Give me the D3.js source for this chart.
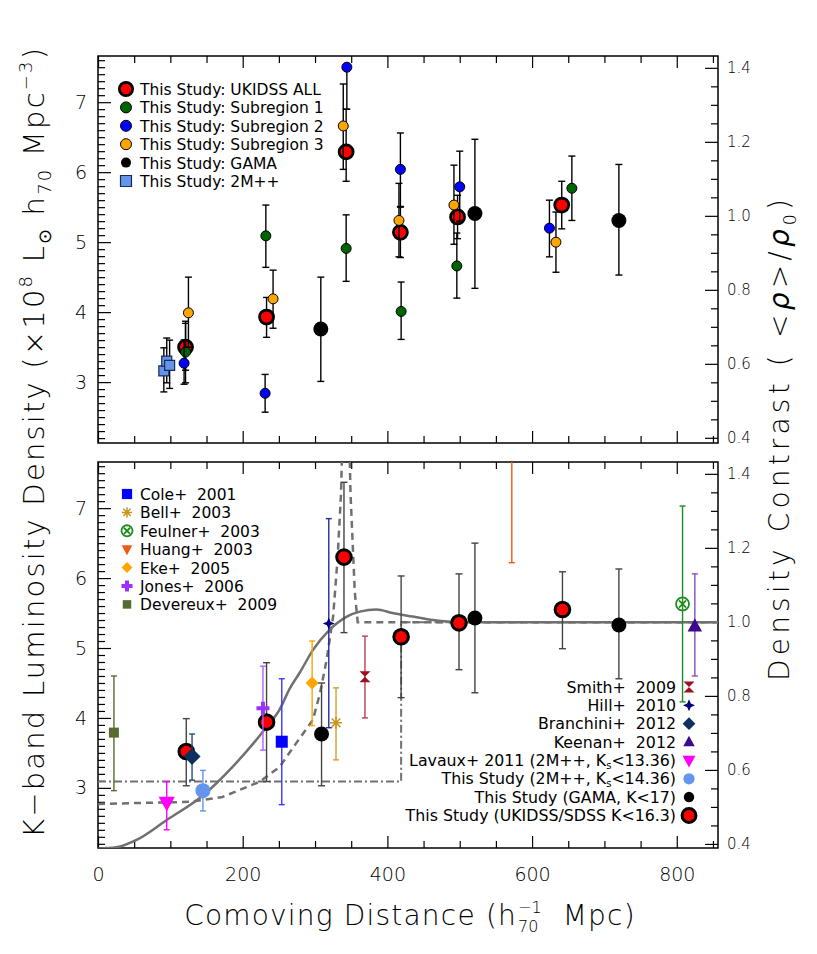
<!DOCTYPE html>
<html>
<head>
<meta charset="utf-8">
<script src="https://cdn.jsdelivr.net/npm/d3@7"></script>
<style>
body { margin: 0; background: #ffffff; }
svg text { font-family: "DejaVu Sans", sans-serif; white-space: pre; }
</style>
</head>
<body>
<script>
var w = 817;
var h = 954;
var x0 = 98, x1 = 718;

// ---- data: [distance, value, lower, upper] ----
// top panel
var ukidssAll = [[121,3.50,3.17,3.84],[233,3.93,3.64,4.21],[343,6.29,5.87,6.90],[418,5.14,4.78,5.50],[497,5.36,5.05,5.67],[641,5.53,5.19,5.87]];
var subregion1 = [[121,3.43,2.99,3.87],[232,5.09,4.64,5.53],[343,4.91,4.44,5.39],[419,4.01,3.61,4.43],[496,4.66,4.20,5.13],[655,5.77,5.31,6.23]];
var subregion2 = [[119,3.27,2.97,3.60],[231,2.84,2.57,3.11],[344,7.50,6.90,7.50],[418,6.04,5.51,6.56],[500,5.79,5.30,6.30],[624,5.20,4.79,5.60]];
var subregion3 = [[125,3.99,3.50,4.50],[242,4.19,3.77,4.60],[339,6.66,6.04,7.26],[416,5.31,4.79,5.84],[492,5.53,4.97,6.10],[633,5.00,4.57,5.43]];
var gamaTop = [[308,3.76,3.01,4.50],[521,5.41,4.34,6.47],[720,5.31,4.53,6.11]];
var twoMppTop = [[91,3.16,2.86,3.49],[95,3.30,2.99,3.63],[99,3.24,2.91,3.60]];

// bottom panel
var ukidssBot = [[122,3.52,3.03,3.99],[233,3.94,3.09,4.79],[340,6.30,5.22,7.37],[419,5.16,4.29,6.03],[499,5.36,4.69,6.06],[642,5.55,4.99,6.09]];
var gamaBot = [[309,3.77,3.03,4.50],[521,5.43,4.36,6.50],[720,5.33,4.56,6.13]];
var twoMppBot = [[145,2.96,2.67,3.25]];
var lavaux = [[95,2.79,2.40,3.09]];
var branchini = [[130,3.45,3.11,3.77]];
var keenan = [[825,5.31,4.60,6.06]];
var hill = [[319,5.35,3.86,6.85]];
var smith = [[369,4.59,4.00,5.17]];
var cole = [[254,3.66,2.76,4.56]];
var bell = [[329,3.93,3.40,4.43]];
var feulner = [[808,5.63,4.23,7.03]];
var huang = [[572,8.20,6.22,10.2]];
var eke = [[296,4.50,3.89,5.10]];
var jones = [[228,4.14,3.54,4.74]];
var devereux = [[22,3.79,2.96,4.60]];

// model curves
var modelDist = [0, 25, 54, 95, 145, 186, 233, 251, 265, 279, 297, 320, 344, 362, 385, 407, 435, 463, 500, 857];
var modelVal  = [2.13, 2.15, 2.26, 2.54, 2.89, 3.30, 3.87, 4.12, 4.42, 4.65, 4.97, 5.26, 5.45, 5.52, 5.55, 5.50, 5.45, 5.40, 5.37, 5.37];
var dashDist = [0, 127, 172, 224, 251, 274, 297, 307, 316, 325, 331, 336, 343, 349, 352, 355, 359, 857];
var dashVal  = [2.77, 2.80, 2.87, 3.09, 3.30, 3.64, 3.97, 4.36, 4.83, 5.45, 6.26, 7.22, 10.3, 7.22, 6.50, 5.79, 5.37, 5.37];
var dotDist = [0, 419, 419, 857];
var dotVal  = [3.09, 3.09, 5.37, 5.37];

// tick labels
var xTicks = [0, 200, 400, 600, 800];
var yTicks = [3, 4, 5, 6, 7];
var rTicks = [0.4, 0.6, 0.8, 1.0, 1.2, 1.4];

var topLegend = ["This Study: UKIDSS ALL", "This Study: Subregion 1", "This Study: Subregion 2", "This Study: Subregion 3", "This Study: GAMA", "This Study: 2M++"];
var leftLegend = ["Cole+  2001", "Bell+  2003", "Feulner+  2003", "Huang+  2003", "Eke+  2005", "Jones+  2006", "Devereux+  2009"];
var rightLegend = ["Smith+  2009", "Hill+  2010", "Branchini+  2012", "Keenan+  2012", "Lavaux+ 2011 (2M++, K_s<13.36)", "This Study (2M++, K_s<14.36)", "This Study (GAMA, K<17)", "This Study (UKIDSS/SDSS K<16.3)"];

// ---- styles ----
var st = {
  red:   {kind: "circle", s: 7, fill: "#ff0000", stroke: "#000", sw: 2.8, err: "#000"},
  green: {kind: "circle", s: 5, fill: "#006400", stroke: "#000", sw: 1, err: "#000"},
  blue:  {kind: "circle", s: 5, fill: "#0000ff", stroke: "#000", sw: 1, err: "#000"},
  orange:{kind: "circle", s: 5, fill: "#ffa500", stroke: "#000", sw: 1, err: "#000"},
  gama:  {kind: "circle", s: 7.5, fill: "#000", stroke: "none", sw: 0, err: "#000"},
  sq:    {kind: "square", s: 5, fill: "#6495ed", stroke: "#1a2a55", sw: 1.2, err: "#000"},
  redB:  {kind: "circle", s: 7.3, fill: "#ff0000", stroke: "#000", sw: 3, err: "#444"},
  gamaB: {kind: "circle", s: 7.5, fill: "#000", stroke: "none", sw: 0, err: "#444"},
  lblue: {kind: "circle", s: 7.5, fill: "#6495ed", stroke: "none", sw: 0, err: "#6495ed"},
  lavaux:{kind: "tridown", s: 9, fill: "#ff00ff", stroke: "none", sw: 0, err: "#ff00ff"},
  branchini:{kind: "diamond", s: 8.5, fill: "#0d3060", stroke: "none", sw: 0, err: "#2a4a80"},
  keenan:{kind: "triup", s: 8, fill: "#3c0a8c", stroke: "none", sw: 0, err: "#8050c0"},
  hill:  {kind: "star4", s: 6, fill: "#000080", stroke: "none", sw: 0, err: "#2828a8"},
  smith: {kind: "hourglass", s: 5.5, fill: "#a00f1e", stroke: "none", sw: 0, err: "#b84050"},
  cole:  {kind: "square", s: 6, fill: "#0000ff", stroke: "none", sw: 0, err: "#3838ff"},
  bell:  {kind: "asterisk", s: 6, fill: "none", stroke: "#c8961e", sw: 1.5, err: "#d0a030"},
  feulner:{kind: "circlex", s: 6.5, fill: "none", stroke: "#1e8c1e", sw: 1.8, err: "#1e8c1e"},
  huang: {kind: "tridown", s: 7, fill: "#f05a14", stroke: "none", sw: 0, err: "#f05a14"},
  eke:   {kind: "diamond", s: 6.5, fill: "#ffa500", stroke: "none", sw: 0, err: "#ffa500"},
  jones: {kind: "plus", s: 6.5, fill: "none", stroke: "#9b30ff", sw: 4, err: "#b060ff"},
  devereux:{kind: "square", s: 5, fill: "#556b2f", stroke: "none", sw: 0, err: "#556b2f"}
};

var x = d3.scaleLinear().domain([0, 857]).range([x0, x1]);
var yTop = d3.scaleLinear().domain([2.13, 7.66]).range([443, 56]);
var yBot = d3.scaleLinear().domain([2.14, 7.66]).range([848, 462]);
var rTop = d3.scaleLinear().domain([0.386, 1.432]).range([443, 56]);
var rBot = d3.scaleLinear().domain([0.389, 1.432]).range([848, 462]);

var svg = d3.select("body").append("svg").attr("width", w).attr("height", h);
svg.append("rect").attr("width", w).attr("height", h).attr("fill", "#fff");

var defs = svg.append("defs");
defs.append("clipPath").attr("id", "clipTop").append("rect")
  .attr("x", x0).attr("y", 56).attr("width", x1 - x0).attr("height", 443 - 56);
defs.append("clipPath").attr("id", "clipBot").append("rect")
  .attr("x", x0).attr("y", 462).attr("width", x1 - x0).attr("height", 848 - 462);

drawAxes(yTop, rTop, 56, 443, false);
drawAxes(yBot, rBot, 462, 848, true);

// ---- top panel ----
var gt = svg.append("g").attr("clip-path", "url(#clipTop)");
drawSeries(gt, yTop, twoMppTop, st.sq, 3.5);
drawSeries(gt, yTop, gamaTop, st.gama, 3.5);
drawSeries(gt, yTop, ukidssAll, st.red, 3.5);
drawSeries(gt, yTop, subregion1, st.green, 3.5);
drawSeries(gt, yTop, subregion2, st.blue, 3.5);
drawSeries(gt, yTop, subregion3, st.orange, 3.5);

// ---- bottom panel ----
var gb = svg.append("g").attr("clip-path", "url(#clipBot)");
var line = d3.line().x(function(d) { return x(d[0]); }).y(function(d) { return yBot(d[1]); });
gb.append("path").datum(d3.zip(dotDist, dotVal)).attr("d", line)
  .attr("fill", "none").attr("stroke", "#707070").attr("stroke-width", 2).attr("stroke-dasharray", "8,3,2,3");
gb.append("path").datum(d3.zip(dashDist, dashVal)).attr("d", line)
  .attr("fill", "none").attr("stroke", "#707070").attr("stroke-width", 2.5).attr("stroke-dasharray", "7,5");
gb.append("path").datum(d3.zip(modelDist, modelVal)).attr("d", line.curve(d3.curveMonotoneX))
  .attr("fill", "none").attr("stroke", "#707070").attr("stroke-width", 2.5);

drawSeries(gb, yBot, devereux, st.devereux, 3);
drawSeries(gb, yBot, lavaux, st.lavaux, 3);
drawSeries(gb, yBot, ukidssBot, st.redB, 3.5);
drawSeries(gb, yBot, branchini, st.branchini, 3);
drawSeries(gb, yBot, twoMppBot, st.lblue, 3);
drawSeries(gb, yBot, jones, st.jones, 3);
drawSeries(gb, yBot, cole, st.cole, 3);
drawSeries(gb, yBot, eke, st.eke, 3);
drawSeries(gb, yBot, gamaBot, st.gamaB, 3.5);
drawSeries(gb, yBot, hill, st.hill, 3);
drawSeries(gb, yBot, bell, st.bell, 3);
drawSeries(gb, yBot, smith, st.smith, 3);
drawSeries(gb, yBot, huang, st.huang, 3);
drawSeries(gb, yBot, feulner, st.feulner, 3);
drawSeries(gb, yBot, keenan, st.keenan, 3);

// ---- legends ----
var topStyles = [st.red, st.green, st.blue, st.orange, {kind: "circle", s: 5, fill: "#000", stroke: "none", sw: 0}, st.sq];
topLegend.forEach(function(t, i) {
  var yy = 89 + i * 18.4;
  marker(svg, topStyles[i], 126, yy, i === 0 ? 0.95 : (i === 4 ? 1 : 1.1));
  label(svg.append("text").attr("x", 140).attr("y", yy + 6).attr("font-size", 15.5), t);
});

var leftStyles = [st.cole, st.bell, st.feulner, st.huang, st.eke, st.jones, st.devereux];
leftLegend.forEach(function(t, i) {
  var yy = 494 + i * 18.4;
  marker(svg, leftStyles[i], 127, yy, 0.85);
  label(svg.append("text").attr("x", 140).attr("y", yy + 6).attr("font-size", 15.5), t);
});

var rightStyles = [st.smith, st.hill, st.branchini, st.keenan, st.lavaux, st.lblue, st.gamaB, st.redB];
var rightScale = [1, 1, 0.75, 0.8, 0.8, 0.75, 0.7, 0.95];
rightLegend.forEach(function(t, i) {
  var yy = 687 + i * 18.35;
  marker(svg, rightStyles[i], 689, yy, rightScale[i]);
  label(svg.append("text").attr("x", 676).attr("y", yy + 5.5).attr("font-size", 15.8).attr("text-anchor", "end"), t);
});

// ---- axis titles ----
var lt = svg.append("text").attr("transform", "translate(44,443) rotate(-90)")
  .attr("text-anchor", "middle").attr("font-size", 29).attr("font-weight", 200)
  .attr("textLength", 790);
rich(lt, [["K\u2212band Luminosity Density (\u00d710", 0], ["8", 1], [" L", 0], ["\u2299", -1], [" h", 0], ["70", -1], [" Mpc", 0], ["\u22123", 1], [")", 0]], 29);

var rt = svg.append("text").attr("transform", "translate(789,440) rotate(-90)")
  .attr("text-anchor", "middle").attr("font-size", 28).attr("font-weight", 200)
  .attr("textLength", 482);
rich(rt, [["Density Contrast ( <", 0], ["\u03c1", 2], [">/", 0], ["\u03c1", 2], ["0", -1], [")", 0]], 28);

drawXTitle();

function rich(t, parts, fs) {
  var shift = 0;
  parts.forEach(function(p) {
    var target = p[1] === 1 ? -0.42 * fs : (p[1] === -1 ? 0.25 * fs : 0);
    var sp = t.append("tspan").text(p[0]).attr("dy", target - shift);
    if (p[1] === 1 || p[1] === -1) sp.attr("font-size", fs * 0.62);
    if (p[1] === 2) sp.attr("font-style", "italic").attr("font-weight", 300);
    shift = target;
  });
}

function drawXTitle() {
  var fs = 28, yb = 925;
  var g = svg.append("g").attr("font-size", fs).attr("font-weight", 200);
  var a = g.append("text").attr("y", yb).text("Comoving Distance (h");
  var s1 = g.append("text").attr("y", yb - 12).attr("font-size", 16).text("\u22121");
  var s2 = g.append("text").attr("y", yb + 7).attr("font-size", 16).text("70");
  var b = g.append("text").attr("y", yb).text("  Mpc)");
  // spread letters so the title spans the same width as the original
  var total = a.node().getComputedTextLength() + b.node().getComputedTextLength() +
    Math.max(s1.node().getComputedTextLength(), s2.node().getComputedTextLength()) + 2;
  var ls = (454 - total) / 28;
  a.attr("letter-spacing", ls);
  b.attr("letter-spacing", ls);
  var la = a.node().getComputedTextLength();
  var lsub = Math.max(s1.node().getComputedTextLength(), s2.node().getComputedTextLength());
  var lb = b.node().getComputedTextLength();
  var start = 410 - (la + lsub + lb + 2) / 2;
  a.attr("x", start);
  s1.attr("x", start + la + 1);
  s2.attr("x", start + la + 1);
  b.attr("x", start + la + lsub + 2);
}

function label(t, s) {
  var m = s.split("_s");
  t.append("tspan").text(m[0]);
  if (m.length > 1) {
    t.append("tspan").text("s").attr("font-size", 10).attr("dy", 3);
    t.append("tspan").text(m[1]).attr("dy", -3);
  }
}

function drawSeries(g, y, data, sty, cap) {
  var eg = g.append("g").attr("stroke", sty.err).attr("stroke-width", 1.4).attr("fill", "none");
  data.forEach(function(d) {
    var cx = x(d[0]);
    eg.append("line").attr("x1", cx).attr("x2", cx).attr("y1", y(d[2])).attr("y2", y(d[3]));
    eg.append("line").attr("x1", cx - cap).attr("x2", cx + cap).attr("y1", y(d[2])).attr("y2", y(d[2]));
    eg.append("line").attr("x1", cx - cap).attr("x2", cx + cap).attr("y1", y(d[3])).attr("y2", y(d[3]));
  });
  data.forEach(function(d) { marker(g, sty, x(d[0]), y(d[1]), 1); });
}

function marker(g, sty, cx, cy, k) {
  var s = sty.s * k;
  var m = g.append("g").attr("transform", "translate(" + cx + "," + cy + ")");
  if (sty.kind === "circle") {
    m.append("circle").attr("r", s).attr("fill", sty.fill).attr("stroke", sty.stroke).attr("stroke-width", sty.sw);
  } else if (sty.kind === "plus") {
    m.append("path").attr("d", "M" + (-s) + ",0H" + s + "M0," + (-s) + "V" + s)
      .attr("stroke", sty.stroke).attr("stroke-width", sty.sw);
  } else if (sty.kind === "asterisk") {
    var q = s * 0.72;
    m.append("path").attr("d", "M" + (-s) + ",0H" + s + "M0," + (-s) + "V" + s +
        "M" + (-q) + "," + (-q) + "L" + q + "," + q + "M" + (-q) + "," + q + "L" + q + "," + (-q))
      .attr("stroke", sty.stroke).attr("stroke-width", sty.sw);
  } else if (sty.kind === "circlex") {
    var c = s * 0.55;
    m.append("circle").attr("r", s).attr("fill", "none").attr("stroke", sty.stroke).attr("stroke-width", sty.sw);
    m.append("path").attr("d", "M" + (-c) + "," + (-c) + "L" + c + "," + c + "M" + (-c) + "," + c + "L" + c + "," + (-c))
      .attr("stroke", sty.stroke).attr("stroke-width", sty.sw);
  } else {
    m.append("path").attr("d", shapePath(sty.kind, s)).attr("fill", sty.fill)
      .attr("stroke", sty.stroke).attr("stroke-width", sty.sw);
  }
}

function shapePath(kind, s) {
  if (kind === "square") return "M" + (-s) + "," + (-s) + "h" + 2 * s + "v" + 2 * s + "h" + (-2 * s) + "Z";
  if (kind === "diamond") return "M0," + (-s) + "L" + s + ",0L0," + s + "L" + (-s) + ",0Z";
  if (kind === "triup") return "M0," + (-s) + "L" + s * 0.9 + "," + s * 0.65 + "L" + (-s * 0.9) + "," + s * 0.65 + "Z";
  if (kind === "tridown") return "M0," + s + "L" + s * 0.9 + "," + (-s * 0.65) + "L" + (-s * 0.9) + "," + (-s * 0.65) + "Z";
  if (kind === "hourglass") return "M" + (-s) + "," + (-s) + "L" + s + "," + (-s) + "L" + (-s) + "," + s + "L" + s + "," + s + "Z";
  if (kind === "star4") {
    var a = s * 0.3;
    return "M0," + (-s) + "L" + a + "," + (-a) + "L" + s + ",0L" + a + "," + a + "L0," + s +
      "L" + (-a) + "," + a + "L" + (-s) + ",0L" + (-a) + "," + (-a) + "Z";
  }
  return "";
}

function drawAxes(y, r, yt, yb, labels) {
  var g = svg.append("g");
  var minorY = d3.range(22, 77).map(function(v) { return v / 10; }).filter(function(v) { return v % 1 !== 0; });
  var minorR = d3.range(8, 29).map(function(v) { return v / 20; }).filter(function(v) { return Math.round(v * 100) % 20 !== 0; });
  var minorX = d3.range(50, 857, 50).filter(function(v) { return v % 200 !== 0; });

  g.append("g").attr("transform", "translate(" + x0 + ",0)")
    .call(d3.axisLeft(y).tickValues(minorY).tickSize(-7).tickFormat(""));
  g.append("g").attr("class", "lab").attr("transform", "translate(" + x0 + ",0)")
    .call(d3.axisLeft(y).tickValues(yTicks).tickSize(-13).tickPadding(11).tickFormat(d3.format("d")));
  g.append("g").attr("transform", "translate(" + x1 + ",0)")
    .call(d3.axisRight(r).tickValues(minorR).tickSize(-7).tickFormat(""));
  g.append("g").attr("class", "labr").attr("transform", "translate(" + x1 + ",0)")
    .call(d3.axisRight(r).tickValues(rTicks).tickSize(-13).tickPadding(9).tickFormat(d3.format(".1f")));
  g.append("g").attr("transform", "translate(0," + yt + ")")
    .call(d3.axisTop(x).tickValues(minorX).tickSize(-7).tickFormat(""));
  g.append("g").attr("transform", "translate(0," + yt + ")")
    .call(d3.axisTop(x).tickValues(xTicks).tickSize(-12).tickFormat(""));
  g.append("g").attr("transform", "translate(0," + yb + ")")
    .call(d3.axisBottom(x).tickValues(minorX).tickSize(-7).tickFormat(""));
  g.append("g").attr("class", "labx").attr("transform", "translate(0," + yb + ")")
    .call(d3.axisBottom(x).tickValues(xTicks).tickSize(-12).tickPadding(20)
      .tickFormat(labels ? d3.format("d") : ""));

  g.selectAll(".domain").remove();
  g.selectAll(".tick line").attr("stroke", "#000").attr("stroke-width", 1.2);
  g.selectAll(".lab text, .labx text").attr("font-size", 19).attr("font-family", "DejaVu Sans")
    .attr("font-weight", 300).attr("fill", "#000");
  g.selectAll(".labr text").attr("font-size", 15).attr("font-family", "DejaVu Sans")
    .attr("font-weight", 300).attr("fill", "#000");

  g.append("rect").attr("x", x0).attr("y", yt).attr("width", x1 - x0).attr("height", yb - yt)
    .attr("fill", "none").attr("stroke", "#000").attr("stroke-width", 1.5);
}
</script>
</body>
</html>
